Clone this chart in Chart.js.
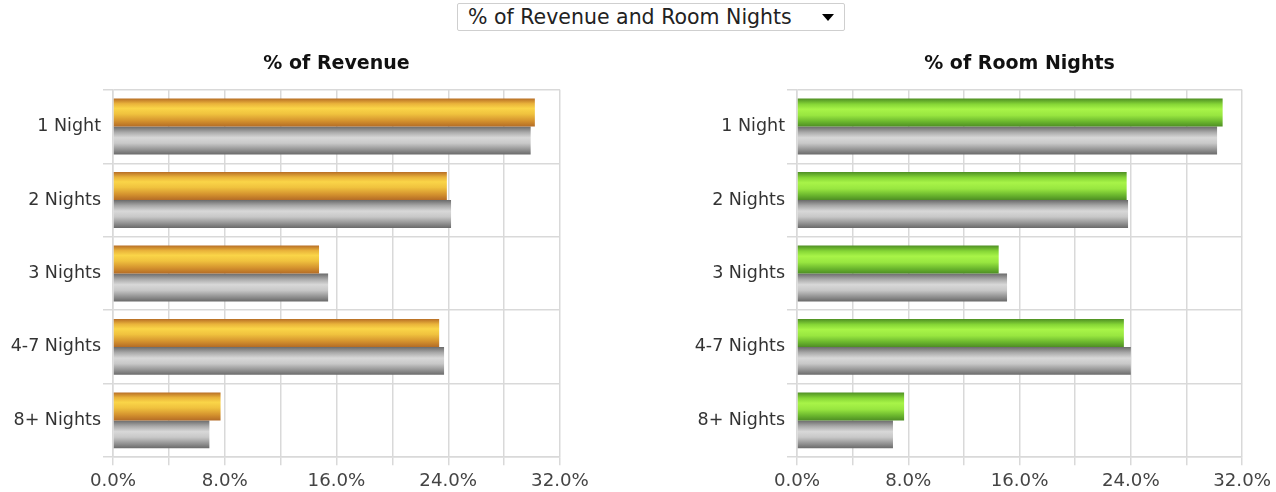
<!DOCTYPE html>
<html>
<head>
<meta charset="utf-8">
<script src="https://cdn.jsdelivr.net/npm/chart.js@4/dist/chart.umd.min.js"></script>
<style>
  html, body { margin: 0; padding: 0; background: #fff; width: 1276px; height: 492px; overflow: hidden; font-family: "DejaVu Sans", sans-serif; }
  #dropdown { position: absolute; left: 457px; top: 3px; width: 388px; height: 28px; border: 1px solid #cfcfcf; border-radius: 2px; background: #fff; box-sizing: border-box; }
  #dropdown .txt { position: absolute; left: 10px; top: 1px; font-size: 20.5px; line-height: 24px; color: #222; white-space: nowrap; }
  #dropdown .arrow { position: absolute; right: 10px; top: 10px; width: 0; height: 0; border-left: 6px solid transparent; border-right: 6px solid transparent; border-top: 7px solid #000; }
  .wrap { position: absolute; top: 36px; height: 461px; }
  #w1 { left: 0px; width: 600px; }
  #w2 { left: 684px; width: 592px; }
</style>
</head>
<body>
<div id="dropdown"><span class="txt">% of Revenue and Room Nights</span><span class="arrow"></span></div>
<div class="wrap" id="w1"><canvas id="c1"></canvas></div>
<div class="wrap" id="w2"><canvas id="c2"></canvas></div>
<script>
const categories = ["1 Night", "2 Nights", "3 Nights", "4-7 Nights", "8+ Nights"];
const revenueShare = [30.2, 23.9, 14.75, 23.35, 7.7];
const revenueCompare = [29.9, 24.2, 15.4, 23.7, 6.9];
const roomNightsShare = [30.6, 23.7, 14.5, 23.5, 7.7];
const roomNightsCompare = [30.2, 23.8, 15.1, 24.0, 6.9];
const xTickValues = [0, 8, 16, 24, 32];

const palettes = {
  orange: [[0, '#b86f26'], [0.18, '#e9b23a'], [0.35, '#fad548'], [0.55, '#f0c23e'], [0.8, '#d4922e'], [1, '#b46c26']],
  green:  [[0, '#4f9024'], [0.2, '#86d636'], [0.38, '#a8f448'], [0.6, '#98e640'], [0.82, '#6cb82e'], [1, '#4e8e24']],
  gray:   [[0, '#6a6a6a'], [0.2, '#a8a8a8'], [0.4, '#d8d8d8'], [0.6, '#c8c8c8'], [0.85, '#8e8e8e'], [1, '#6a6a6a']]
};

function gradientFor(name, fallback) {
  return function(ctx) {
    const el = ctx.element;
    if (!el || !isFinite(el.y) || !isFinite(el.height) || !el.height) return fallback;
    const top = el.y - el.height / 2;
    const g = ctx.chart.ctx.createLinearGradient(0, top, 0, top + el.height);
    palettes[name].forEach(([o, c]) => g.addColorStop(o, c));
    return g;
  };
}

const FONT = '"DejaVu Sans", sans-serif';

function makeChart(id, title, mainValues, compareValues, colorName, fallback, padRight) {
  const chart = new Chart(document.getElementById(id), {
    type: 'bar',
    data: {
      labels: categories,
      datasets: [
        { data: mainValues, backgroundColor: gradientFor(colorName, fallback), borderWidth: 0 },
        { data: compareValues, backgroundColor: gradientFor('gray', '#b0b0b0'), borderWidth: 0 }
      ]
    },
    options: {
      indexAxis: 'y',
      responsive: true,
      maintainAspectRatio: false,
      animation: false,
      events: [],
      layout: { autoPadding: false, padding: { left: 0, right: padRight, top: 0, bottom: 0 } },
      datasets: { bar: { categoryPercentage: 0.76, barPercentage: 1.0 } },
      plugins: {
        legend: { display: false },
        tooltip: { enabled: false },
        title: {
          display: true,
          text: title,
          fullSize: false,
          color: '#111',
          font: { family: FONT, size: 19, weight: 'bold' },
          padding: { top: 17, bottom: 14 }
        }
      },
      scales: {
        x: {
          min: 0, max: 32,
          ticks: {
            stepSize: 4,
            autoSkip: false,
            maxRotation: 0,
            color: '#444',
            padding: 5,
            font: { family: FONT, size: 18.2 },
            callback: (v) => xTickValues.includes(v) ? v.toFixed(1) + '%' : ''
          },
          grid: { color: '#d9d9d9', lineWidth: 1.5, tickLength: 8 },
          border: { display: true, color: '#d9d9d9', width: 1.5 }
        },
        y: {
          afterFit: (scale) => { scale.width = 113; },
          ticks: {
            color: '#333',
            padding: 2,
            font: { family: FONT, size: 17.5 }
          },
          grid: { color: '#d9d9d9', lineWidth: 1.5, tickLength: 10, offset: true },
          border: { display: true, color: '#d9d9d9', width: 1.5 }
        }
      }
    }
  });
  chart.update('none');
  return chart;
}

makeChart('c1', '% of Revenue', revenueShare, revenueCompare, 'orange', '#f0c040', 40);
makeChart('c2', '% of Room Nights', roomNightsShare, roomNightsCompare, 'green', '#98e640', 32);
</script>
</body>
</html>
